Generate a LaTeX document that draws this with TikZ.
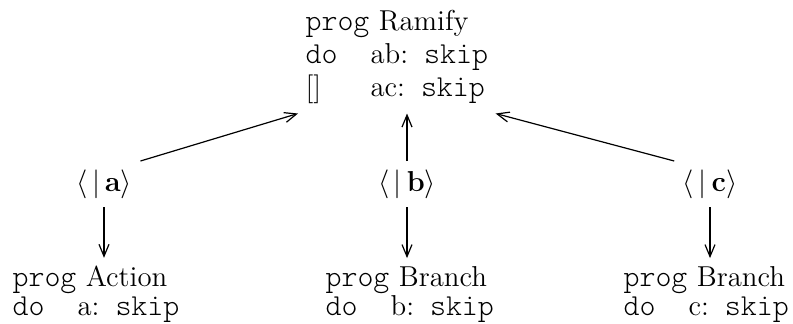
\documentclass[tikz,border=0pt]{standalone}
\usepackage{amsmath}
\usepackage{tikz}
\usetikzlibrary{arrows.meta}

\newcommand{\cw}[1]{{\fontsize{15.2}{16.5}\fontseries{l}\ttfamily #1}}
\newcommand{\guardbox}[1]{\makebox[32.5pt][l]{#1}}
\newcommand{\doskip}[2]{\guardbox{#1}#2:\cw{~skip}}

\begin{document}
\begin{tikzpicture}[x=0.5pt, y=-0.5pt, semithick,
    >={Straight Barb[length=6pt,width=5pt]},
    prog/.style={inner sep=3.5pt, anchor=base west},
    event/.style={inner sep=4pt, font=\fontsize{13.3}{16}\selectfont}]
    \useasboundingbox (0,0) rectangle (793,323);
    % top program
    \node[prog, font=\fontsize{14.4}{16.5}\selectfont] (ramify) at (298,30)
      {\begin{tabular}[t]{@{}l@{}}\cw{prog} Ramify\\ \doskip{\cw{do}}{ab}\\ \doskip{[]}{ac}\end{tabular}};
    % bottom programs
    \node[prog, font=\fontsize{14.4}{14.5}\selectfont] (action) at (5,286)
      {\begin{tabular}[t]{@{}l@{}}\cw{prog} Action\\ \doskip{\cw{do}}{a}\end{tabular}};
    \node[prog, font=\fontsize{14.4}{14.5}\selectfont] (branchb) at (318,286)
      {\begin{tabular}[t]{@{}l@{}}\cw{prog} Branch\\ \doskip{\cw{do}}{b}\end{tabular}};
    \node[prog, font=\fontsize{14.4}{14.5}\selectfont] (branchc) at (616,286)
      {\begin{tabular}[t]{@{}l@{}}\cw{prog} Branch\\ \doskip{\cw{do}}{c}\end{tabular}};
    % events
    \node[event] (la) at (104,184) {$\langle\,|\,\mathbf{a}\rangle$};
    \node[event] (lb) at (407,184) {$\langle\,|\,\mathbf{b}\rangle$};
    \node[event] (lc) at (710,184) {$\langle\,|\,\mathbf{c}\rangle$};
    % arrows
    \draw[->] (la.north east) -- (ramify.south west);
    \draw[->] (lb.north) -- (lb.north |- ramify.south);
    \draw[->] (lc.north west) -- (ramify.south east);
    \draw[->] (la.south) -- (la.south |- action.north);
    \draw[->] (lb.south) -- (lb.south |- branchb.north);
    \draw[->] (lc.south) -- (lc.south |- branchc.north);
\end{tikzpicture}
\end{document}
